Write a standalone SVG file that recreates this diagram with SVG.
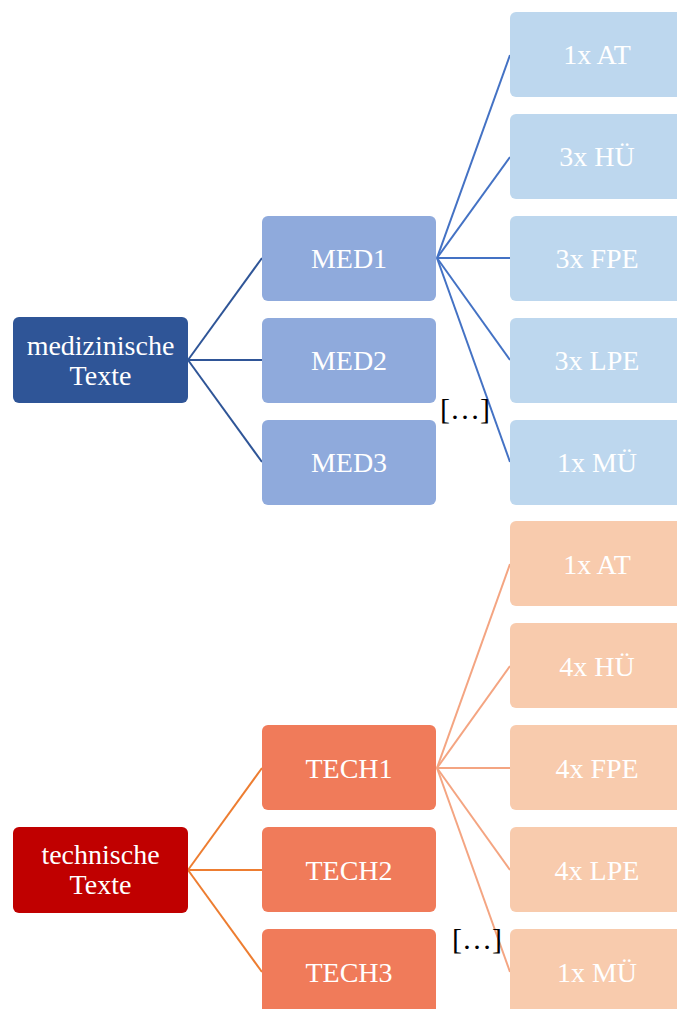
<svg xmlns="http://www.w3.org/2000/svg" width="677" height="1009" viewBox="0 0 677 1009">
<style>
text{font-family:"Liberation Serif","Times New Roman",serif;font-size:28px;fill:#FFFFFF;text-anchor:middle}
.dots{fill:#000000;text-anchor:start;font-size:30px}
.l1{stroke:#2F5597;stroke-width:2;fill:none}
.l2{stroke:#4472C4;stroke-width:2;fill:none}
.l3{stroke:#ED7D31;stroke-width:2;fill:none}
.l4{stroke:#F4A582;stroke-width:2;fill:none}
.rootM{fill:#2F5597}
.midM{fill:#8FAADC}
.leafM{fill:#BDD7EE}
.rootT{fill:#C00000}
.midT{fill:#F07B5A}
.leafT{fill:#F8CBAD}
</style>
<g id="connectors">
<line class="l1" x1="188" y1="360" x2="262" y2="258"/>
<line class="l1" x1="188" y1="360" x2="262" y2="360"/>
<line class="l1" x1="188" y1="360" x2="262" y2="462"/>
<line class="l2" x1="437" y1="258" x2="510" y2="55"/>
<line class="l2" x1="437" y1="258" x2="510" y2="157"/>
<line class="l2" x1="437" y1="258" x2="510" y2="258"/>
<line class="l2" x1="437" y1="258" x2="510" y2="360"/>
<line class="l2" x1="437" y1="258" x2="510" y2="462"/>
<line class="l3" x1="188" y1="870" x2="262" y2="768"/>
<line class="l3" x1="188" y1="870" x2="262" y2="870"/>
<line class="l3" x1="188" y1="870" x2="262" y2="972"/>
<line class="l4" x1="437" y1="768" x2="510" y2="564"/>
<line class="l4" x1="437" y1="768" x2="510" y2="666"/>
<line class="l4" x1="437" y1="768" x2="510" y2="768"/>
<line class="l4" x1="437" y1="768" x2="510" y2="870"/>
<line class="l4" x1="437" y1="768" x2="510" y2="972"/>
</g>
<g id="med-root"><rect class="rootM" x="13" y="317" width="175" height="86" rx="6"/><text x="100.5" y="355">medizinische</text><text x="100.5" y="385">Texte</text></g>
<g id="med1"><rect class="midM" x="262" y="216" width="174" height="85" rx="6"/><text x="349" y="268">MED1</text></g>
<g id="med2"><rect class="midM" x="262" y="318" width="174" height="85" rx="6"/><text x="349" y="370">MED2</text></g>
<g id="med3"><rect class="midM" x="262" y="420" width="174" height="85" rx="6"/><text x="349" y="472">MED3</text></g>
<g id="med-at"><rect class="leafM" x="510" y="12" width="174" height="85" rx="6"/><text x="597" y="64">1x AT</text></g>
<g id="med-hu"><rect class="leafM" x="510" y="114" width="174" height="85" rx="6"/><text x="597" y="166">3x HÜ</text></g>
<g id="med-fpe"><rect class="leafM" x="510" y="216" width="174" height="85" rx="6"/><text x="597" y="268">3x FPE</text></g>
<g id="med-lpe"><rect class="leafM" x="510" y="318" width="174" height="85" rx="6"/><text x="597" y="370">3x LPE</text></g>
<g id="med-mu"><rect class="leafM" x="510" y="420" width="174" height="85" rx="6"/><text x="597" y="472">1x MÜ</text></g>
<g id="med-dots"><text class="dots" x="440" y="419">[…]</text></g>
<g id="tech-root"><rect class="rootT" x="13" y="827" width="175" height="86" rx="6"/><text x="100.5" y="864">technische</text><text x="100.5" y="894">Texte</text></g>
<g id="tech1"><rect class="midT" x="262" y="725" width="174" height="85" rx="6"/><text x="349" y="778">TECH1</text></g>
<g id="tech2"><rect class="midT" x="262" y="827" width="174" height="85" rx="6"/><text x="349" y="880">TECH2</text></g>
<g id="tech3"><rect class="midT" x="262" y="929" width="174" height="85" rx="6"/><text x="349" y="982">TECH3</text></g>
<g id="tech-at"><rect class="leafT" x="510" y="521" width="174" height="85" rx="6"/><text x="597" y="574">1x AT</text></g>
<g id="tech-hu"><rect class="leafT" x="510" y="623" width="174" height="85" rx="6"/><text x="597" y="676">4x HÜ</text></g>
<g id="tech-fpe"><rect class="leafT" x="510" y="725" width="174" height="85" rx="6"/><text x="597" y="778">4x FPE</text></g>
<g id="tech-lpe"><rect class="leafT" x="510" y="827" width="174" height="85" rx="6"/><text x="597" y="880">4x LPE</text></g>
<g id="tech-mu"><rect class="leafT" x="510" y="929" width="174" height="85" rx="6"/><text x="597" y="982">1x MÜ</text></g>
<g id="tech-dots"><text class="dots" x="452" y="949">[…]</text></g>
</svg>
